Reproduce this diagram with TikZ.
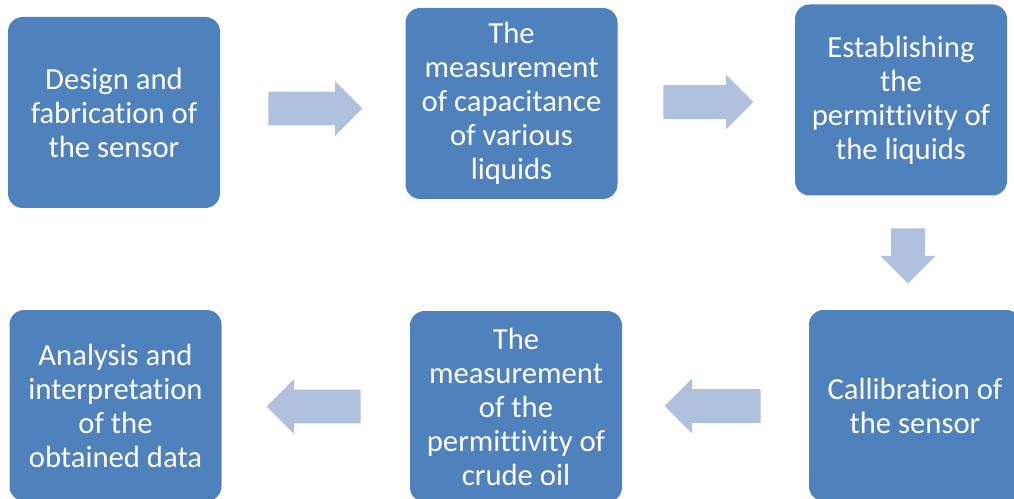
\documentclass[tikz,border=0pt]{standalone}
\usepackage{fontspec}
\setmainfont{Carlito}[Ligatures=NoCommon]
\usetikzlibrary{shapes.arrows}
\definecolor{boxblue}{HTML}{4F81BD}
\definecolor{arrowblue}{HTML}{B0C1DE}

\begin{document}
\begin{tikzpicture}[x=0.75pt,y=-0.75pt,
    stepbox/.style={fill=boxblue, rounded corners=11pt, minimum width=159pt,
        minimum height=143.25pt, inner sep=0pt, text=white, align=center,
        font=\fontsize{23}{25.5}\selectfont},
    flow/.style={fill=arrowblue, single arrow, single arrow head extend=7.875pt,
        inner xsep=0pt, inner ysep=12.375pt, anchor=tail}]
    \useasboundingbox (0,0) rectangle (1014,499);
    \node [stepbox] (design) at (114,112.5) {Design and\\fabrication of\\the sensor};
    \node [stepbox] (capac) at (511.5,103.5) {The\\measurement\\of capacitance\\of various\\liquids};
    \node [stepbox] (perm) at (901,100) {Establishing\\the\\permittivity of\\the liquids};
    \node [stepbox] (calib) at (915,405.5) {Callibration of\\the sensor};
    \node [stepbox] (crude) at (516,406.5) {The\\measurement\\of the\\permittivity of\\crude oil};
    \node [stepbox] (analysis) at (115.5,405.5) {Analysis and\\interpretation\\of the\\obtained data};
    \node [flow, minimum height=70.5pt] (f1) at (268,108.5) {};
    \node [flow, minimum height=67.5pt] (f2) at (663,102) {};
    \node [flow, minimum height=41.25pt, shape border rotate=270,
        inner xsep=12.375pt, inner ysep=0pt] (f3) at (908,228) {};
    \node [flow, minimum height=72pt, shape border rotate=180] (f4) at (761,406) {};
    \node [flow, minimum height=70.5pt, shape border rotate=180] (f5) at (361,406.5) {};
\end{tikzpicture}
\end{document}
